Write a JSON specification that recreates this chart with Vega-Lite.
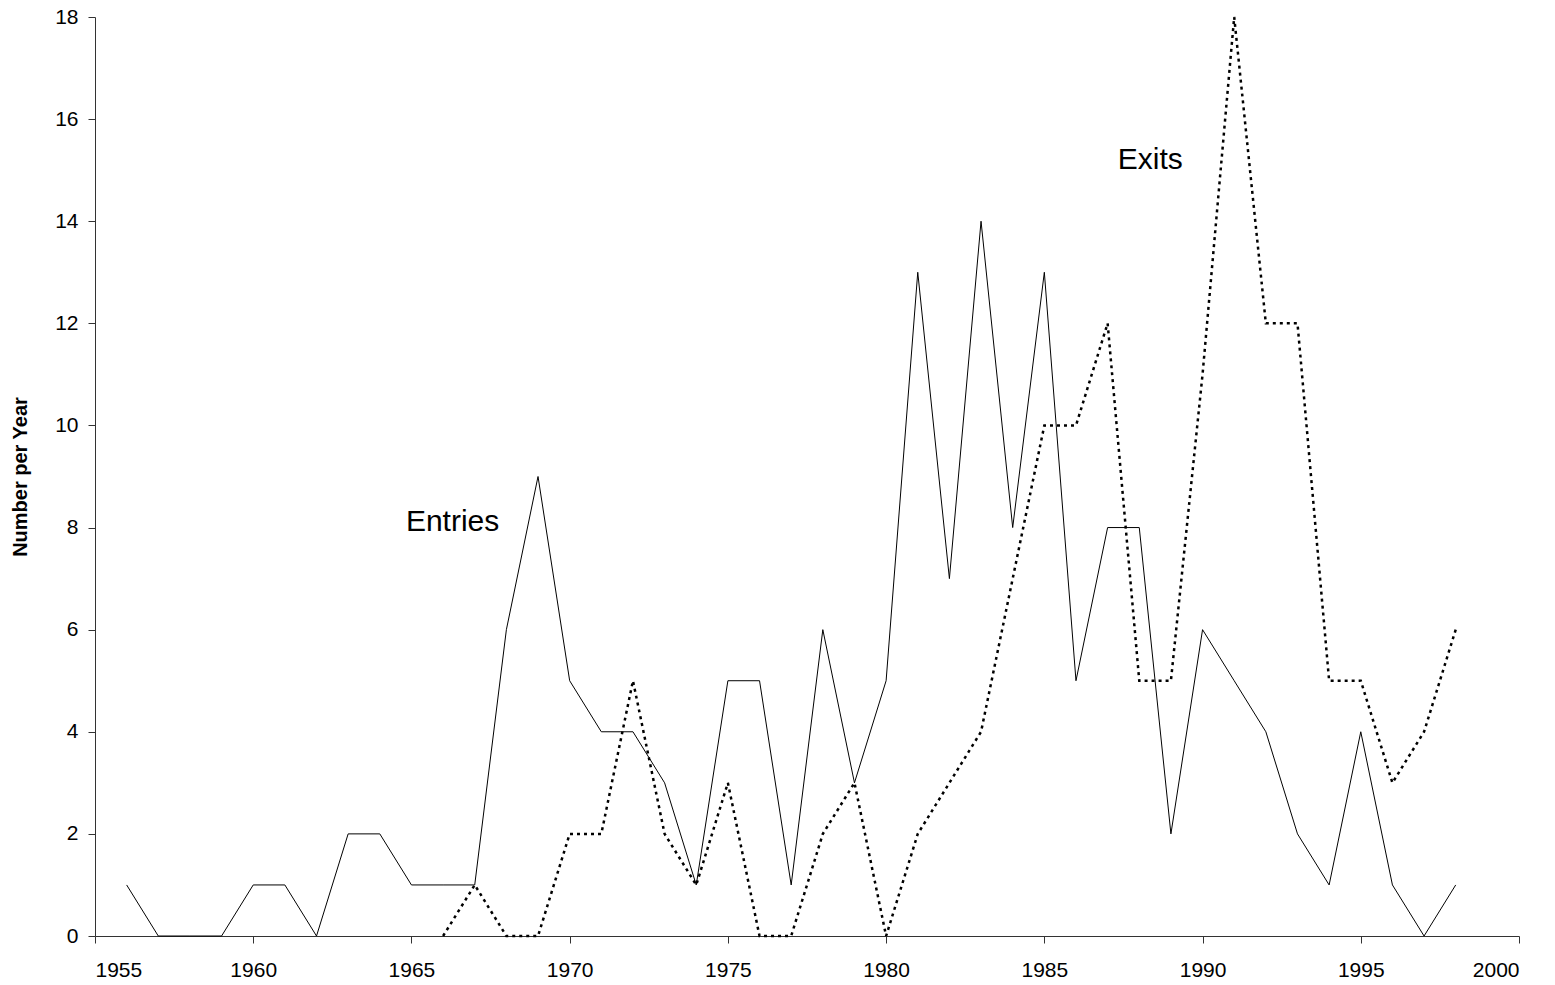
{
  "$schema": "https://vega.github.io/schema/vega-lite/v6.json",
  "autosize": "none",
  "width": 1424,
  "height": 919,
  "padding": {"left": 95, "top": 17, "right": 36, "bottom": 49},
  "background": "white",
  "config": {
    "view": {"stroke": null},
    "font": "Liberation Sans"
  },
  "datasets": {
    "series": [
      {"year": 1956, "series": "Entries", "value": 1},
      {"year": 1957, "series": "Entries", "value": 0},
      {"year": 1958, "series": "Entries", "value": 0},
      {"year": 1959, "series": "Entries", "value": 0},
      {"year": 1960, "series": "Entries", "value": 1},
      {"year": 1961, "series": "Entries", "value": 1},
      {"year": 1962, "series": "Entries", "value": 0},
      {"year": 1963, "series": "Entries", "value": 2},
      {"year": 1964, "series": "Entries", "value": 2},
      {"year": 1965, "series": "Entries", "value": 1},
      {"year": 1966, "series": "Entries", "value": 1},
      {"year": 1967, "series": "Entries", "value": 1},
      {"year": 1968, "series": "Entries", "value": 6},
      {"year": 1969, "series": "Entries", "value": 9},
      {"year": 1970, "series": "Entries", "value": 5},
      {"year": 1971, "series": "Entries", "value": 4},
      {"year": 1972, "series": "Entries", "value": 4},
      {"year": 1973, "series": "Entries", "value": 3},
      {"year": 1974, "series": "Entries", "value": 1},
      {"year": 1975, "series": "Entries", "value": 5},
      {"year": 1976, "series": "Entries", "value": 5},
      {"year": 1977, "series": "Entries", "value": 1},
      {"year": 1978, "series": "Entries", "value": 6},
      {"year": 1979, "series": "Entries", "value": 3},
      {"year": 1980, "series": "Entries", "value": 5},
      {"year": 1981, "series": "Entries", "value": 13},
      {"year": 1982, "series": "Entries", "value": 7},
      {"year": 1983, "series": "Entries", "value": 14},
      {"year": 1984, "series": "Entries", "value": 8},
      {"year": 1985, "series": "Entries", "value": 13},
      {"year": 1986, "series": "Entries", "value": 5},
      {"year": 1987, "series": "Entries", "value": 8},
      {"year": 1988, "series": "Entries", "value": 8},
      {"year": 1989, "series": "Entries", "value": 2},
      {"year": 1990, "series": "Entries", "value": 6},
      {"year": 1991, "series": "Entries", "value": 5},
      {"year": 1992, "series": "Entries", "value": 4},
      {"year": 1993, "series": "Entries", "value": 2},
      {"year": 1994, "series": "Entries", "value": 1},
      {"year": 1995, "series": "Entries", "value": 4},
      {"year": 1996, "series": "Entries", "value": 1},
      {"year": 1997, "series": "Entries", "value": 0},
      {"year": 1998, "series": "Entries", "value": 1},
      {"year": 1966, "series": "Exits", "value": 0},
      {"year": 1967, "series": "Exits", "value": 1},
      {"year": 1968, "series": "Exits", "value": 0},
      {"year": 1969, "series": "Exits", "value": 0},
      {"year": 1970, "series": "Exits", "value": 2},
      {"year": 1971, "series": "Exits", "value": 2},
      {"year": 1972, "series": "Exits", "value": 5},
      {"year": 1973, "series": "Exits", "value": 2},
      {"year": 1974, "series": "Exits", "value": 1},
      {"year": 1975, "series": "Exits", "value": 3},
      {"year": 1976, "series": "Exits", "value": 0},
      {"year": 1977, "series": "Exits", "value": 0},
      {"year": 1978, "series": "Exits", "value": 2},
      {"year": 1979, "series": "Exits", "value": 3},
      {"year": 1980, "series": "Exits", "value": 0},
      {"year": 1981, "series": "Exits", "value": 2},
      {"year": 1982, "series": "Exits", "value": 3},
      {"year": 1983, "series": "Exits", "value": 4},
      {"year": 1984, "series": "Exits", "value": 7},
      {"year": 1985, "series": "Exits", "value": 10},
      {"year": 1986, "series": "Exits", "value": 10},
      {"year": 1987, "series": "Exits", "value": 12},
      {"year": 1988, "series": "Exits", "value": 5},
      {"year": 1989, "series": "Exits", "value": 5},
      {"year": 1990, "series": "Exits", "value": 11},
      {"year": 1991, "series": "Exits", "value": 18},
      {"year": 1992, "series": "Exits", "value": 12},
      {"year": 1993, "series": "Exits", "value": 12},
      {"year": 1994, "series": "Exits", "value": 5},
      {"year": 1995, "series": "Exits", "value": 5},
      {"year": 1996, "series": "Exits", "value": 3},
      {"year": 1997, "series": "Exits", "value": 4},
      {"year": 1998, "series": "Exits", "value": 6}
    ],
    "labels": [
      {"year": 1966.3, "value": 8.1, "label": "Entries"},
      {"year": 1988.35, "value": 15.2, "label": "Exits"}
    ]
  },
  "layer": [
    {
      "data": {"name": "series"},
      "transform": [{"filter": "datum.series === 'Entries'"}],
      "mark": {"type": "line", "color": "black", "strokeWidth": 1},
      "encoding": {
        "x": {"field": "year", "type": "quantitative", "scale": {"domain": [1955, 2000], "nice": false, "zero": false},
          "axis": {"values": [1955, 1960, 1965, 1970, 1975, 1980, 1985, 1990, 1995, 2000], "format": "d", "title": null,
            "grid": false, "domainColor": "#333333", "tickColor": "#333333", "tickSize": 7,
            "labelFont": "Liberation Sans", "labelFontSize": 21, "labelColor": "black", "labelPadding": 16}},
        "y": {"field": "value", "type": "quantitative", "scale": {"domain": [0, 18], "nice": false},
          "axis": {"values": [0, 2, 4, 6, 8, 10, 12, 14, 16, 18], "title": "Number per Year",
            "grid": false, "domainColor": "#333333", "tickColor": "#333333", "tickSize": 7,
            "labelFont": "Liberation Sans", "labelFontSize": 21, "labelColor": "black", "labelPadding": 10,
            "titleFont": "Liberation Sans", "titleFontSize": 20, "titleFontWeight": "bold", "titleColor": "black", "titlePadding": 24}}
      }
    },
    {
      "data": {"name": "series"},
      "transform": [{"filter": "datum.series === 'Exits'"}],
      "mark": {"type": "line", "color": "black", "strokeWidth": 2.5, "strokeDash": [3, 4]},
      "encoding": {
        "x": {"field": "year", "type": "quantitative"},
        "y": {"field": "value", "type": "quantitative"}
      }
    },
    {
      "data": {"name": "labels"},
      "mark": {"type": "text", "fontSize": 30, "font": "Liberation Sans", "color": "black"},
      "encoding": {
        "x": {"field": "year", "type": "quantitative"},
        "y": {"field": "value", "type": "quantitative"},
        "text": {"field": "label"}
      }
    }
  ]
}
